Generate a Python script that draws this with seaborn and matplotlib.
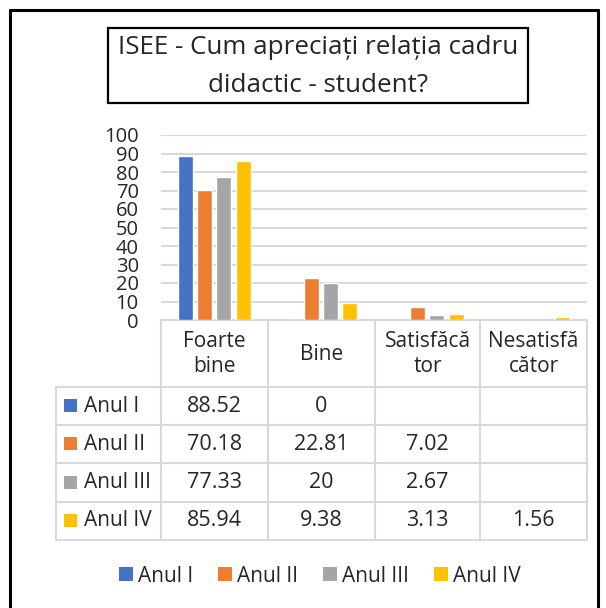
import pandas as pd
import matplotlib.pyplot as plt
import seaborn as sns
from matplotlib.patches import Rectangle

# data
categories = ['Foarte bine', 'Bine', 'Satisfăcător', 'Nesatisfăcător']
header_labels = ['Foarte\nbine', 'Bine', 'Satisfăcă\ntor', 'Nesatisfă\ncător']
series = ['Anul I', 'Anul II', 'Anul III', 'Anul IV']
anul_1 = [88.52, 0, None, None]
anul_2 = [70.18, 22.81, 7.02, None]
anul_3 = [77.33, 20, 2.67, None]
anul_4 = [85.94, 9.38, 3.13, 1.56]
colors = ['#4472C4', '#ED7D31', '#A5A5A5', '#FFC000']
title_lines = ['ISEE - Cum apreciați relația cadru', 'didactic - student?']

sns.set_style("white")
plt.rcParams['font.family'] = ['Open Sans', 'DejaVu Sans']

rows = []
for name, vals in zip(series, [anul_1, anul_2, anul_3, anul_4]):
    for cat, v in zip(categories, vals):
        if v is not None:
            rows.append({'cat': cat, 'anul': name, 'val': v})
df = pd.DataFrame(rows)

W, H = 606, 608
fig = plt.figure(figsize=(W / 100, H / 100), dpi=100)

# overlay in pixel coordinates for frame, title and table
ov = fig.add_axes([0, 0, 1, 1])
ov.set_xlim(0, W)
ov.set_ylim(H, 0)
ov.axis('off')

# chart area
x0, x1, y_top, y_base = 161, 587, 135, 320
ax = fig.add_axes([x0 / W, 1 - y_base / H, (x1 - x0) / W, (y_base - y_top) / H])
sns.barplot(data=df, x='cat', y='val', hue='anul', order=categories, hue_order=series,
            palette=colors, width=0.73, gap=0.23, errorbar=None, ax=ax, legend=False,
            saturation=1)
ax.set_xlim(-0.5, 3.5)
ax.set_ylim(0, 100)
ax.set_yticks(range(0, 101, 10))
ax.yaxis.grid(True, color='#d9d9d9', linewidth=1.5)
ax.set_axisbelow(True)
ax.tick_params(axis='y', length=0, pad=16, labelsize=14.5)
ax.set_xticks([])
ax.set_xlabel('')
ax.set_ylabel('')
for s in ax.spines.values():
    s.set_visible(False)
ax.patch.set_alpha(0)

# outer frame
ov.plot([10, 10], [608, 10], color='black', lw=2.2)
ov.plot([10, 598], [10, 10], color='black', lw=2.2)
ov.plot([598, 598], [10, 608], color='black', lw=2.2)

# title box
ov.add_patch(Rectangle((108, 28), 420, 75, fill=False, edgecolor='black', lw=1.6))
ov.text(318, 48, title_lines[0], ha='center', va='center', fontsize=18.7)
ov.text(318, 85, title_lines[1], ha='center', va='center', fontsize=18.7)

# data table
grid_c = '#d9d9d9'
col_x = [161, 268, 375, 480, 587]
row_y = [387, 425, 463, 502, 540]
tl = 56
ov.plot([x0, x1], [y_base, y_base], color=grid_c, lw=1.5)
for x in col_x:
    ov.plot([x, x], [y_base, row_y[-1]], color=grid_c, lw=1.5)
for y in row_y:
    ov.plot([tl, x1], [y, y], color=grid_c, lw=1.5)
ov.plot([tl, tl], [row_y[0], row_y[-1]], color=grid_c, lw=1.5)

for i, lab in enumerate(header_labels):
    cx = (col_x[i] + col_x[i + 1]) / 2
    ov.text(cx, 354, lab, ha='center', va='center', fontsize=15, linespacing=1.25)

for r, (name, vals) in enumerate(zip(series, [anul_1, anul_2, anul_3, anul_4])):
    cy = (row_y[r] + row_y[r + 1]) / 2
    ov.add_patch(Rectangle((64, cy - 7), 13, 13, color=colors[r], lw=0))
    ov.text(84, cy, name, ha='left', va='center', fontsize=15)
    for i, v in enumerate(vals):
        if v is not None:
            cx = (col_x[i] + col_x[i + 1]) / 2
            ov.text(cx, cy, f"{v:g}", ha='center', va='center', fontsize=15.5)

# legend
handles = [Rectangle((0, 0), 1, 1, color=c, lw=0) for c in colors]
fig.legend(handles, series, loc='center', bbox_to_anchor=(320 / W, 1 - 576 / H), ncol=4,
           frameon=False, fontsize=15, handlelength=0.65, handleheight=0.65,
           handletextpad=0.25, columnspacing=1.2)

fig.savefig('out.png', dpi=100)
